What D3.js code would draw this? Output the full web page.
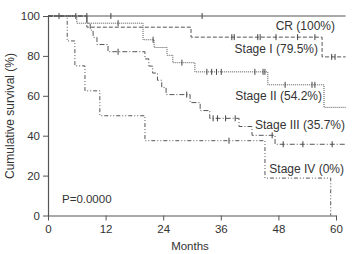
<!DOCTYPE html>
<html>
<head>
<meta charset="utf-8">
<script src="https://cdn.jsdelivr.net/npm/d3@7"></script>
<style>
  body { margin: 0; background: #fff; }
  svg text { font-family: "Liberation Sans", Arial, sans-serif; fill: #333; }
</style>
</head>
<body>
<script>
// months tick labels and survival tick labels
var xTicks = [0, 12, 24, 36, 48, 60];
var yTicks = [0, 20, 40, 60, 80, 100];

// step curves: event times (months) and survival (%) after each event
var crTimes = [0];
var crSurv = [100];
var crCensor = [2.3, 5.8, 8.1, 13.1, 32.1];

var s1Times = [0, 8.1, 29.8, 57.1];
var s1Surv = [100, 94.4, 89.4, 79.5];
var s1Censor = [38.3, 38.8, 43.7, 44.2, 47.5, 52.0, 55.6, 59.1, 59.8];

var s2Times = [0, 6.0, 19.8, 22.1, 24.8, 26.0, 30.6, 45.8, 57.5];
var s2Surv = [100, 96.4, 88.1, 84.2, 80.3, 76.6, 72.0, 65.5, 54.2];
var s2Censor = [14.6, 21.9, 27.9, 33.1, 34.1, 35.1, 36.1, 43.1, 44.8, 45.2, 49.4, 55.0, 55.6];

var s3Times = [0, 8.1, 8.8, 9.4, 10.2, 12.5, 20.2, 21.0, 21.8, 22.8, 23.7, 24.6, 29.6, 31.7, 33.7, 39.8, 42.5, 47.3];
var s3Surv = [100, 96.4, 92.9, 89.3, 85.7, 82.1, 78.5, 74.9, 71.4, 67.8, 64.2, 60.6, 56.6, 52.6, 48.7, 44.6, 40.2, 35.7];
var s3Censor = [14.6, 28.9, 34.4, 35.3, 37.0, 39.0, 46.7, 49.0, 53.1, 59.2];

var s4Times = [0, 4.0, 5.6, 7.7, 10.8, 20.2, 45.2, 58.9];
var s4Surv = [100, 87.5, 75.0, 62.5, 50.0, 37.5, 18.75, 0];
var s4Censor = [37.7];

var labels = ["CR (100%)", "Stage I (79.5%)", "Stage II (54.2%)", "Stage III (35.7%)", "Stage IV (0%)"];

var endTime = 62;

var svg = d3.select("body").append("svg")
  .attr("width", 359)
  .attr("height", 254);

var x = d3.scaleLinear().domain([0, 60]).range([48, 336]);
var y = d3.scaleLinear().domain([0, 100]).range([215.5, 16]);

function stepPoints(times, surv, stop) {
  var pts = times.map(function(t, i) { return [t, surv[i]]; });
  if (stop > times[times.length - 1]) pts.push([stop, surv[surv.length - 1]]);
  return pts;
}

function survAt(times, surv, t) {
  var s = surv[0];
  for (var i = 0; i < times.length; i++) if (times[i] <= t) s = surv[i];
  return s;
}

var line = d3.line()
  .x(function(d) { return x(d[0]); })
  .y(function(d) { return y(d[1]); })
  .curve(d3.curveStepAfter);

var series = [
  {times: crTimes, surv: crSurv, cens: crCensor, dash: null, end: endTime},
  {times: s1Times, surv: s1Surv, cens: s1Censor, dash: "4,2", end: endTime},
  {times: s2Times, surv: s2Surv, cens: s2Censor, dash: "1,1", end: endTime},
  {times: s3Times, surv: s3Surv, cens: s3Censor, dash: "5,2,1,2", end: endTime},
  {times: s4Times, surv: s4Surv, cens: s4Censor, dash: "4,2,1,2,1,2", end: 58.9}
];

var g = svg.append("g");

series.forEach(function(s) {
  g.append("path")
    .datum(stepPoints(s.times, s.surv, s.end))
    .attr("fill", "none")
    .attr("stroke", "#555")
    .attr("stroke-width", s.dash ? 1 : 1.2)
    .attr("stroke-dasharray", s.dash)
    .attr("d", line);

  g.selectAll(null)
    .data(s.cens)
    .enter().append("line")
    .attr("x1", function(d) { return x(d); })
    .attr("x2", function(d) { return x(d); })
    .attr("y1", function(d) { return y(survAt(s.times, s.surv, d)) - 3; })
    .attr("y2", function(d) { return y(survAt(s.times, s.surv, d)) + 3; })
    .attr("stroke", "#444")
    .attr("stroke-width", 1);
});

// axes
var xAxis = svg.append("g")
  .attr("transform", "translate(0," + y(0) + ")")
  .call(d3.axisBottom(x).tickValues(xTicks).tickSize(5).tickSizeOuter(0));
var yAxis = svg.append("g")
  .attr("transform", "translate(" + x(0) + ",0)")
  .call(d3.axisLeft(y).tickValues(yTicks).tickSize(5).tickSizeOuter(0));

[xAxis, yAxis].forEach(function(a) {
  a.select(".domain").attr("stroke", "#555").attr("stroke-width", 1.2);
  a.selectAll(".tick line").attr("stroke", "#555");
  a.selectAll(".tick text")
    .attr("font-size", 11.5)
    .attr("font-family", "Liberation Sans, Arial, sans-serif")
    .attr("fill", "#333");
});
xAxis.selectAll(".tick text").attr("dy", "0.85em");
yAxis.selectAll(".tick text").attr("x", -8);

svg.append("text")
  .attr("x", 190).attr("y", 250)
  .attr("text-anchor", "middle")
  .attr("font-size", 11.5)
  .text("Months");

svg.append("text")
  .attr("transform", "translate(14,116) rotate(-90)")
  .attr("text-anchor", "middle")
  .attr("font-size", 12)
  .text("Cumulative survival (%)");

// curve labels
var labelPos = [[335, 30], [318, 53], [322, 100], [345, 129], [344, 173]];
labels.forEach(function(t, i) {
  svg.append("text")
    .attr("x", labelPos[i][0]).attr("y", labelPos[i][1])
    .attr("text-anchor", "end")
    .attr("font-size", 12)
    .text(t);
});

svg.append("text")
  .attr("x", 62).attr("y", 203)
  .attr("font-size", 11.5)
  .text("P=0.0000");
</script>
</body>
</html>
